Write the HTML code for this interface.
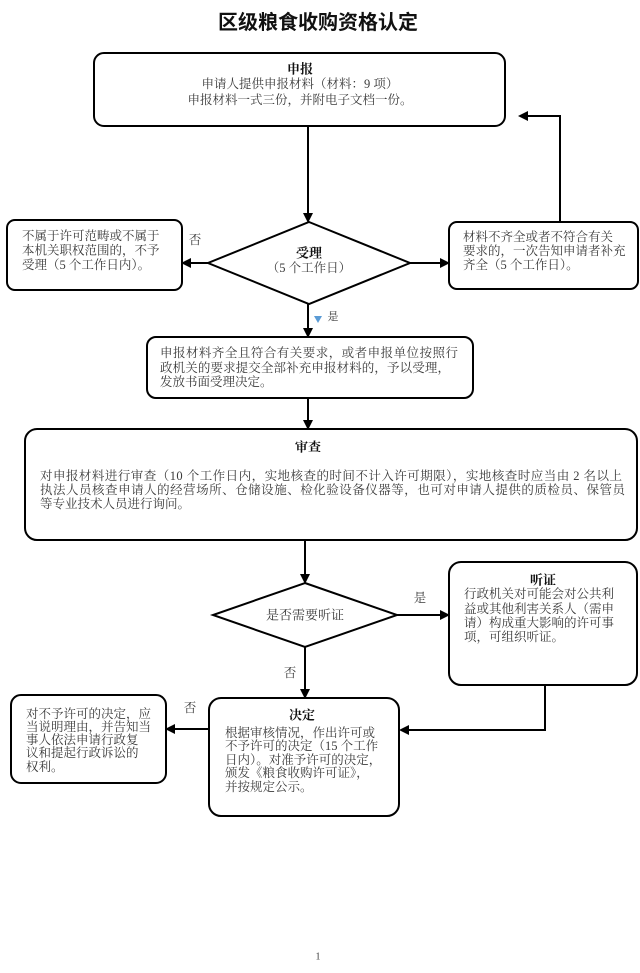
<!DOCTYPE html>
<html>
<head>
<meta charset="utf-8">
<style>
  html, body { margin: 0; padding: 0; background: #ffffff; }
  body { width: 640px; height: 973px; overflow: hidden; }
  svg { display: block; }
  .t { font-family: "Liberation Serif", "Noto Serif CJK SC", serif; font-size: 12.5px; fill: #3a3a3a; }
  .b { font-family: "Liberation Serif", "Noto Serif CJK SC", serif; font-size: 13px; font-weight: bold; fill: #111; }
  .title { font-family: "Liberation Sans", "Noto Sans CJK SC", sans-serif; font-size: 20px; font-weight: bold; fill: #111; }
  .box { fill: #fff; stroke: #000; stroke-width: 2; }
  .ln { fill: none; stroke: #000; stroke-width: 2; }
  .ah { fill: #000; }
</style>
</head>
<body>
<svg width="640" height="973" viewBox="0 0 640 973" xmlns="http://www.w3.org/2000/svg">
  <!-- Title -->
  <text class="title" x="318" y="23" text-anchor="middle" dominant-baseline="central">区级粮食收购资格认定</text>

  <!-- Box 1: 申报 -->
  <rect class="box" x="94" y="53" width="411" height="73" rx="10" ry="10"/>
  <text class="b" x="300" y="69" text-anchor="middle" dominant-baseline="central">申报</text>
  <text class="t" x="300" y="84" text-anchor="middle" dominant-baseline="central">申请人提供申报材料（材料：9 项）</text>
  <text class="t" x="300" y="100" text-anchor="middle" dominant-baseline="central">申报材料一式三份，并附电子文档一份。</text>

  <!-- Arrow box1 -> diamond1 -->
  <line class="ln" x1="308" y1="126" x2="308" y2="214"/>
  <polygon class="ah" points="303,213 313,213 308,223"/>

  <!-- Diamond 1: 受理 -->
  <polygon class="box" points="309,222 410,263 309,304 208,263"/>
  <text class="b" x="309" y="253" text-anchor="middle" dominant-baseline="central">受理</text>
  <text class="t" x="309" y="268" text-anchor="middle" dominant-baseline="central">（5 个工作日）</text>

  <!-- Left box -->
  <rect class="box" x="7" y="220" width="175" height="70" rx="8" ry="8"/>
  <text class="t" x="22" y="236" dominant-baseline="central">不属于许可范畴或不属于</text>
  <text class="t" x="22" y="250.5" dominant-baseline="central">本机关职权范围的，不予</text>
  <text class="t" x="22" y="265" dominant-baseline="central">受理（5 个工作日内）。</text>
  <text class="t" x="195" y="240" text-anchor="middle" dominant-baseline="central">否</text>
  <line class="ln" x1="208" y1="263" x2="190" y2="263"/>
  <polygon class="ah" points="191,258 191,268 181,263"/>

  <!-- Right box -->
  <rect class="box" x="449" y="222" width="189" height="67" rx="8" ry="8"/>
  <text class="t" x="463" y="237" dominant-baseline="central">材料不齐全或者不符合有关</text>
  <text class="t" x="463" y="251" dominant-baseline="central">要求的，一次告知申请者补充</text>
  <text class="t" x="463" y="265" dominant-baseline="central">齐全（5 个工作日）。</text>
  <line class="ln" x1="410" y1="263" x2="441" y2="263"/>
  <polygon class="ah" points="440,258 440,268 450,263"/>

  <!-- Return path right box -> box1 -->
  <polyline class="ln" points="560,222 560,116 527,116"/>
  <polygon class="ah" points="528,111 528,121 518,116"/>

  <!-- Arrow diamond1 -> box3 -->
  <line class="ln" x1="308" y1="304" x2="308" y2="329"/>
  <polygon class="ah" points="303,328 313,328 308,338"/>
  <polygon points="314,316 322,316 318,323" fill="#5b9bd5"/>
  <text class="t" x="333" y="317" text-anchor="middle" dominant-baseline="central" style="font-size:11px">是</text>

  <!-- Box 3 -->
  <rect class="box" x="147" y="337" width="326" height="61" rx="9" ry="9"/>
  <text class="t" x="160" y="353" dominant-baseline="central" textLength="298" lengthAdjust="spacing">申报材料齐全且符合有关要求，或者申报单位按照行</text>
  <text class="t" x="160" y="368" dominant-baseline="central" textLength="290" lengthAdjust="spacing">政机关的要求提交全部补充申报材料的，予以受理，</text>
  <text class="t" x="160" y="382" dominant-baseline="central">发放书面受理决定。</text>

  <!-- Arrow box3 -> 审查 -->
  <line class="ln" x1="308" y1="398" x2="308" y2="421"/>
  <polygon class="ah" points="303,420 313,420 308,430"/>

  <!-- 审查 box -->
  <rect class="box" x="25" y="429" width="612" height="111" rx="12" ry="12"/>
  <text class="b" x="308" y="447" text-anchor="middle" dominant-baseline="central">审查</text>
  <text class="t" x="40" y="476" dominant-baseline="central" textLength="582" lengthAdjust="spacing">对申报材料进行审查（10 个工作日内，实地核查的时间不计入许可期限），实地核查时应当由 2 名以上</text>
  <text class="t" x="40" y="490" dominant-baseline="central" textLength="585" lengthAdjust="spacing">执法人员核查申请人的经营场所、仓储设施、检化验设备仪器等，也可对申请人提供的质检员、保管员</text>
  <text class="t" x="40" y="504" dominant-baseline="central">等专业技术人员进行询问。</text>

  <!-- Arrow 审查 -> diamond2 -->
  <line class="ln" x1="305" y1="540" x2="305" y2="575"/>
  <polygon class="ah" points="300,574 310,574 305,584"/>

  <!-- Diamond 2 -->
  <polygon class="box" points="305,583 397,615 305,647 213,615"/>
  <text class="t" x="305" y="615" text-anchor="middle" dominant-baseline="central" style="font-size:13px">是否需要听证</text>

  <!-- Arrow diamond2 -> 听证 -->
  <line class="ln" x1="397" y1="615" x2="441" y2="615"/>
  <polygon class="ah" points="440,610 440,620 450,615"/>
  <text class="t" x="420" y="598" text-anchor="middle" dominant-baseline="central">是</text>

  <!-- 听证 box -->
  <rect class="box" x="449" y="562" width="188" height="123" rx="12" ry="12"/>
  <text class="b" x="543" y="580" text-anchor="middle" dominant-baseline="central">听证</text>
  <text class="t" x="464" y="594" dominant-baseline="central">行政机关对可能会对公共利</text>
  <text class="t" x="464" y="609" dominant-baseline="central">益或其他利害关系人（需申</text>
  <text class="t" x="464" y="623" dominant-baseline="central">请）构成重大影响的许可事</text>
  <text class="t" x="464" y="637" dominant-baseline="central">项，可组织听证。</text>

  <!-- Arrow diamond2 -> 决定 -->
  <line class="ln" x1="305" y1="647" x2="305" y2="690"/>
  <polygon class="ah" points="300,689 310,689 305,699"/>
  <text class="t" x="290" y="673" text-anchor="middle" dominant-baseline="central">否</text>

  <!-- Path 听证 -> 决定 -->
  <polyline class="ln" points="545,685 545,730 408,730"/>
  <polygon class="ah" points="409,725 409,735 399,730"/>

  <!-- 决定 box -->
  <rect class="box" x="209" y="698" width="190" height="118" rx="12" ry="12"/>
  <text class="b" x="302" y="715" text-anchor="middle" dominant-baseline="central">决定</text>
  <text class="t" x="225" y="733" dominant-baseline="central">根据审核情况，作出许可或</text>
  <text class="t" x="225" y="746" dominant-baseline="central">不予许可的决定（15 个工作</text>
  <text class="t" x="225" y="760" dominant-baseline="central">日内）。对准予许可的决定，</text>
  <text class="t" x="225" y="773" dominant-baseline="central">颁发《粮食收购许可证》，</text>
  <text class="t" x="225" y="787" dominant-baseline="central">并按规定公示。</text>

  <!-- Arrow 决定 -> left bottom box -->
  <line class="ln" x1="209" y1="729" x2="174" y2="729"/>
  <polygon class="ah" points="175,724 175,734 165,729"/>
  <text class="t" x="190" y="708" text-anchor="middle" dominant-baseline="central">否</text>

  <!-- Left bottom box -->
  <rect class="box" x="11" y="695" width="155" height="88" rx="10" ry="10"/>
  <text class="t" x="26" y="714" dominant-baseline="central">对不予许可的决定，应</text>
  <text class="t" x="26" y="727" dominant-baseline="central">当说明理由，并告知当</text>
  <text class="t" x="26" y="740" dominant-baseline="central">事人依法申请行政复</text>
  <text class="t" x="26" y="753" dominant-baseline="central">议和提起行政诉讼的</text>
  <text class="t" x="26" y="767" dominant-baseline="central">权利。</text>

  <!-- Page number -->
  <text class="t" x="318" y="957" text-anchor="middle" dominant-baseline="central" style="font-size:10px">1</text>
</svg>
</body>
</html>
